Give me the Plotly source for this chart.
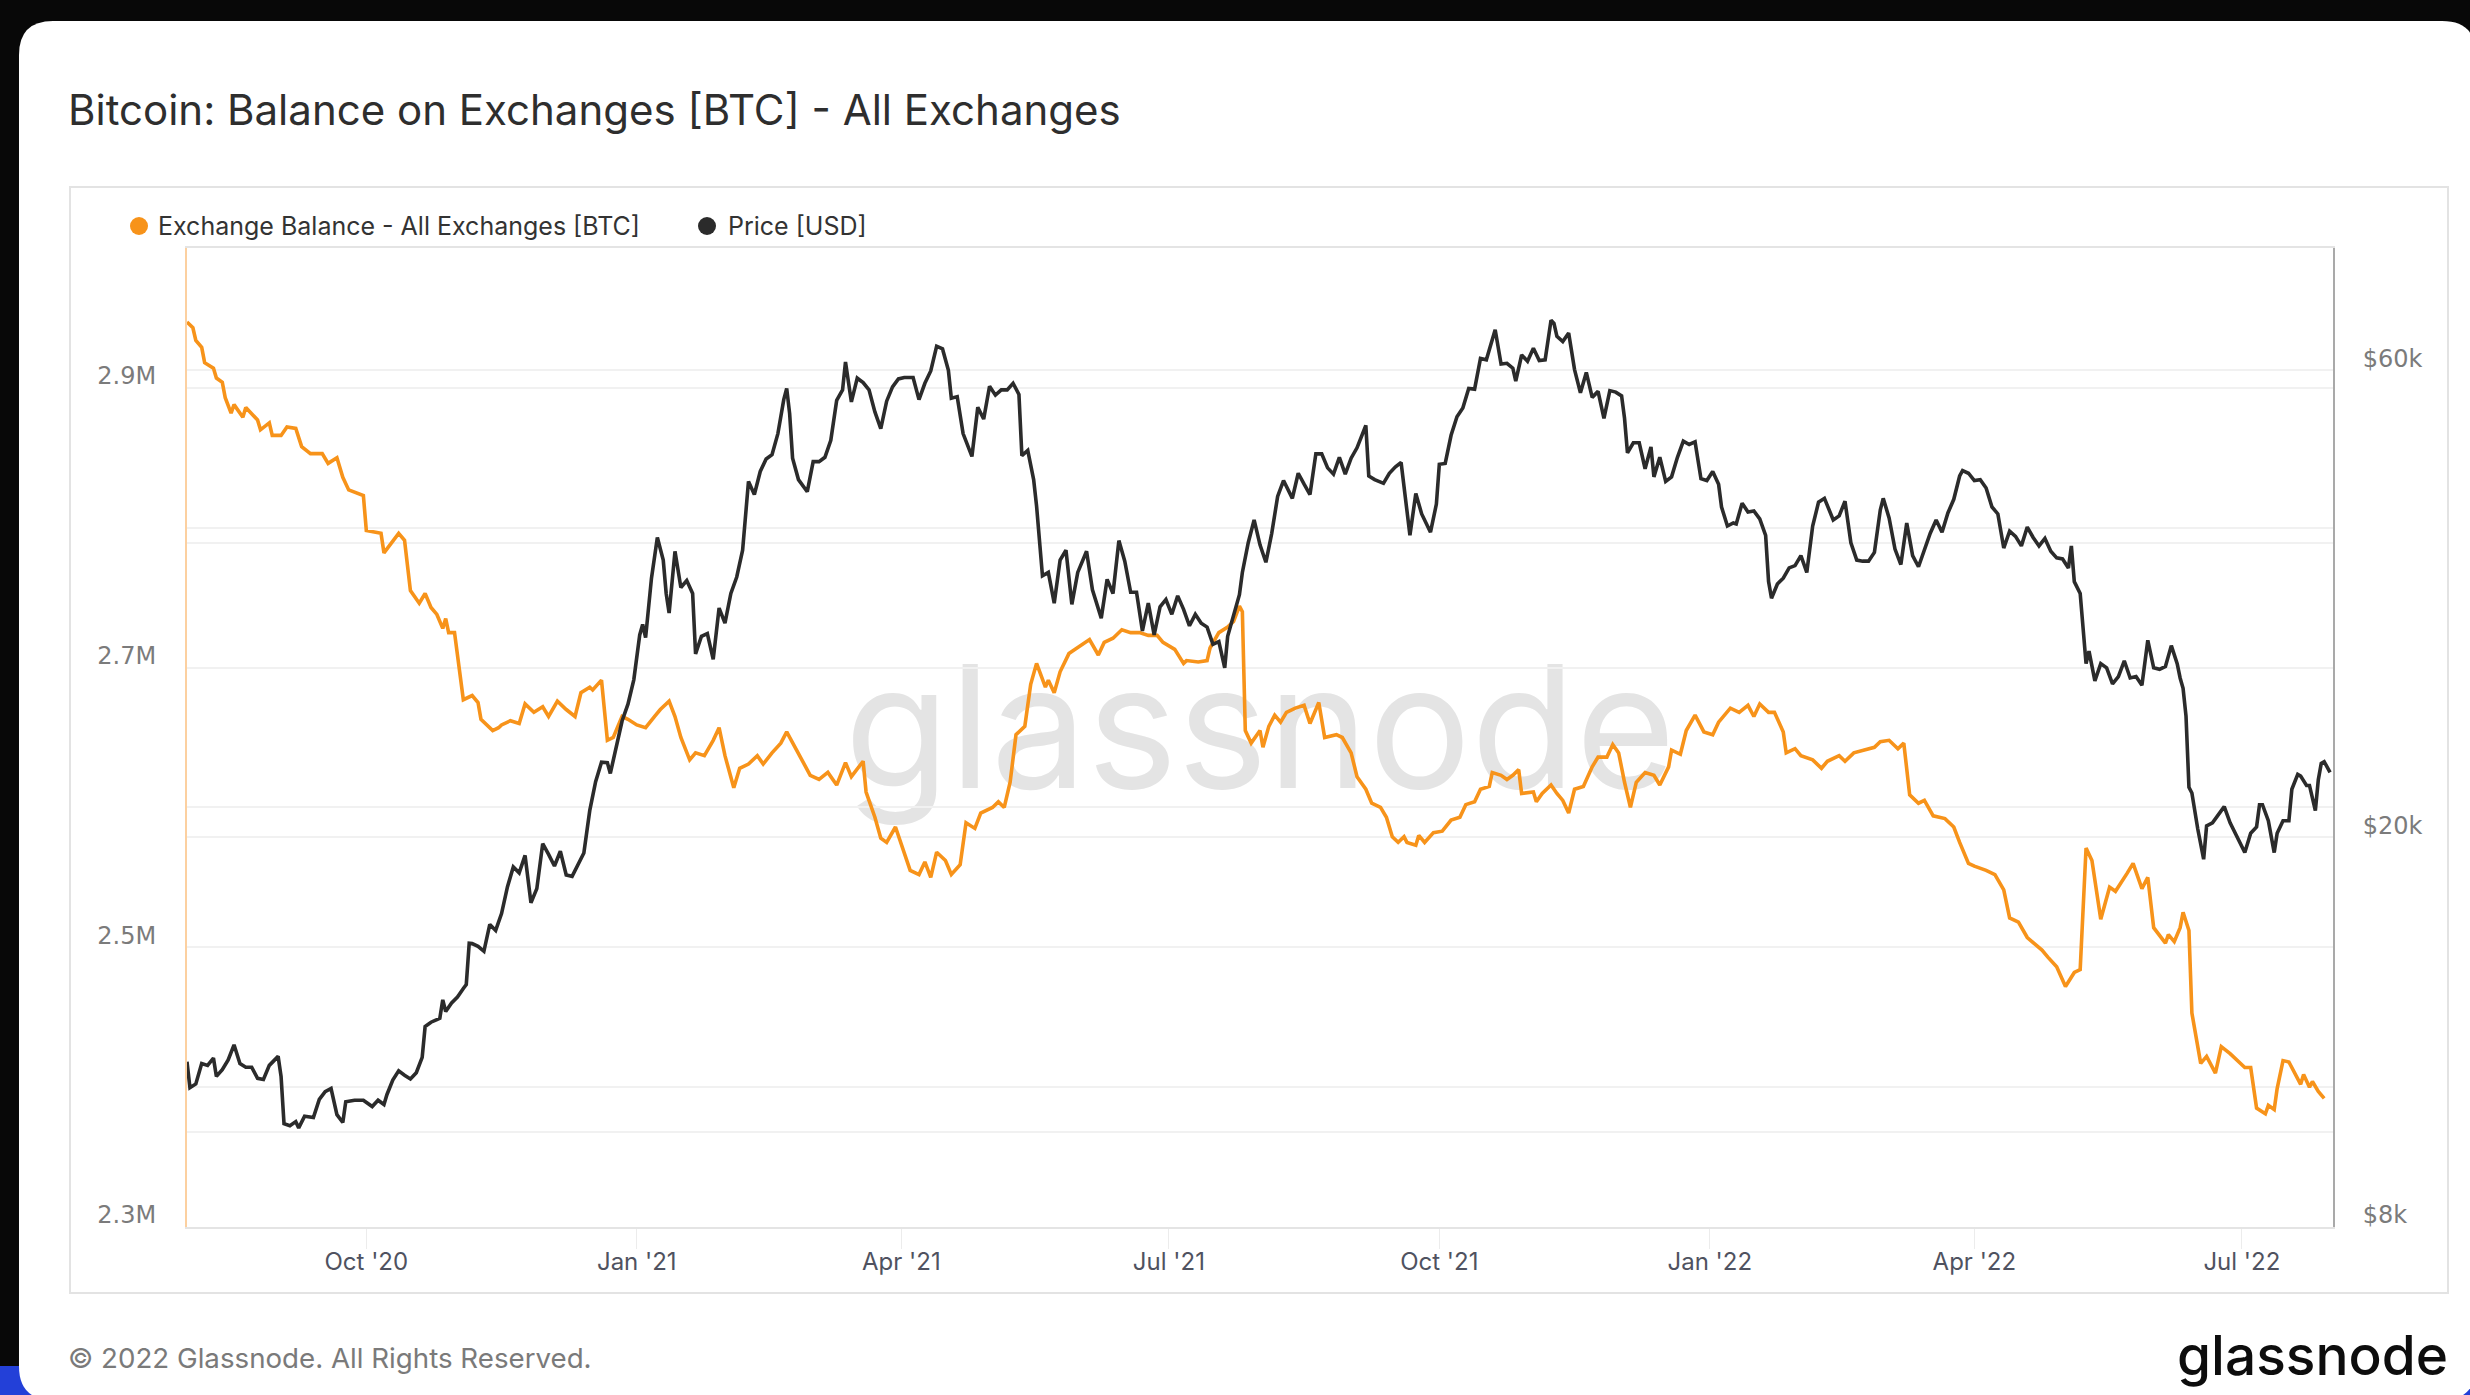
import math
import plotly.graph_objects as go

# ---------------- data ----------------
balance_dates = [
    "2020-08-01", "2020-08-03", "2020-08-04", "2020-08-06", "2020-08-07", "2020-08-10", "2020-08-11",
    "2020-08-13", "2020-08-14", "2020-08-16", "2020-08-17", "2020-08-20", "2020-08-21", "2020-08-25",
    "2020-08-26", "2020-08-29", "2020-08-30", "2020-09-02", "2020-09-04", "2020-09-07", "2020-09-09",
    "2020-09-12", "2020-09-16", "2020-09-18", "2020-09-21", "2020-09-23", "2020-09-25", "2020-09-28",
    "2020-09-30", "2020-10-01", "2020-10-04", "2020-10-06", "2020-10-07", "2020-10-10", "2020-10-12",
    "2020-10-14", "2020-10-16", "2020-10-19", "2020-10-21", "2020-10-23", "2020-10-25", "2020-10-27",
    "2020-10-28", "2020-10-29", "2020-10-31", "2020-11-03", "2020-11-06", "2020-11-08", "2020-11-09",
    "2020-11-13", "2020-11-15", "2020-11-16", "2020-11-19", "2020-11-22", "2020-11-24", "2020-11-27",
    "2020-11-30", "2020-12-02", "2020-12-05", "2020-12-08", "2020-12-11", "2020-12-13", "2020-12-16",
    "2020-12-17", "2020-12-20", "2020-12-22", "2020-12-24", "2020-12-27", "2020-12-29", "2021-01-01",
    "2021-01-04", "2021-01-07", "2021-01-09", "2021-01-12", "2021-01-14", "2021-01-16", "2021-01-19",
    "2021-01-21", "2021-01-24", "2021-01-27", "2021-01-29", "2021-01-31", "2021-02-03", "2021-02-05",
    "2021-02-08", "2021-02-11", "2021-02-13", "2021-02-16", "2021-02-19", "2021-02-21", "2021-02-24",
    "2021-02-27", "2021-03-01", "2021-03-04", "2021-03-07", "2021-03-10", "2021-03-13", "2021-03-15",
    "2021-03-19", "2021-03-20", "2021-03-23", "2021-03-25", "2021-03-27", "2021-03-30", "2021-04-01",
    "2021-04-04", "2021-04-07", "2021-04-09", "2021-04-11", "2021-04-13", "2021-04-16", "2021-04-18",
    "2021-04-21", "2021-04-23", "2021-04-26", "2021-04-28", "2021-05-02", "2021-05-04", "2021-05-06",
    "2021-05-08", "2021-05-10", "2021-05-13", "2021-05-15", "2021-05-17", "2021-05-20", "2021-05-21",
    "2021-05-23", "2021-05-25", "2021-05-28", "2021-06-01", "2021-06-04", "2021-06-07", "2021-06-09",
    "2021-06-12", "2021-06-15", "2021-06-18", "2021-06-21", "2021-06-24", "2021-06-27", "2021-06-29",
    "2021-07-03", "2021-07-06", "2021-07-07", "2021-07-11", "2021-07-14", "2021-07-15", "2021-07-18",
    "2021-07-21", "2021-07-23", "2021-07-25", "2021-07-26", "2021-07-27", "2021-07-29", "2021-08-01",
    "2021-08-02", "2021-08-04", "2021-08-06", "2021-08-08", "2021-08-10", "2021-08-13", "2021-08-16",
    "2021-08-18", "2021-08-21", "2021-08-23", "2021-08-27", "2021-08-29", "2021-09-01", "2021-09-03",
    "2021-09-06", "2021-09-08", "2021-09-11", "2021-09-13", "2021-09-15", "2021-09-17", "2021-09-19",
    "2021-09-20", "2021-09-23", "2021-09-24", "2021-09-26", "2021-09-29", "2021-10-02", "2021-10-05",
    "2021-10-08", "2021-10-10", "2021-10-13", "2021-10-15", "2021-10-18", "2021-10-19", "2021-10-22",
    "2021-10-24", "2021-10-26", "2021-10-28", "2021-10-29", "2021-11-02", "2021-11-03", "2021-11-05",
    "2021-11-08", "2021-11-10", "2021-11-12", "2021-11-14", "2021-11-16", "2021-11-19", "2021-11-22",
    "2021-11-24", "2021-11-27", "2021-11-29", "2021-12-01", "2021-12-03", "2021-12-05", "2021-12-07",
    "2021-12-10", "2021-12-13", "2021-12-15", "2021-12-18", "2021-12-19", "2021-12-22", "2021-12-24",
    "2021-12-27", "2021-12-30", "2022-01-02", "2022-01-04", "2022-01-08", "2022-01-11", "2022-01-14",
    "2022-01-16", "2022-01-18", "2022-01-21", "2022-01-23", "2022-01-26", "2022-01-27", "2022-01-30",
    "2022-02-01", "2022-02-05", "2022-02-08", "2022-02-10", "2022-02-14", "2022-02-16", "2022-02-19",
    "2022-02-23", "2022-02-26", "2022-02-28", "2022-03-03", "2022-03-06", "2022-03-08", "2022-03-10",
    "2022-03-13", "2022-03-15", "2022-03-18", "2022-03-22", "2022-03-25", "2022-03-27", "2022-03-30",
    "2022-04-01", "2022-04-05", "2022-04-08", "2022-04-11", "2022-04-13", "2022-04-16", "2022-04-19",
    "2022-04-22", "2022-04-24", "2022-04-26", "2022-04-29", "2022-05-02", "2022-05-05", "2022-05-07",
    "2022-05-09", "2022-05-11", "2022-05-13", "2022-05-14", "2022-05-17", "2022-05-19", "2022-05-23",
    "2022-05-25", "2022-05-28", "2022-05-30", "2022-06-01", "2022-06-05", "2022-06-06", "2022-06-08",
    "2022-06-10", "2022-06-11", "2022-06-13", "2022-06-14", "2022-06-17", "2022-06-19", "2022-06-22",
    "2022-06-24", "2022-06-27", "2022-07-02", "2022-07-04", "2022-07-06", "2022-07-09", "2022-07-10",
    "2022-07-12", "2022-07-13", "2022-07-15", "2022-07-17", "2022-07-21", "2022-07-22", "2022-07-24",
    "2022-07-25", "2022-07-27", "2022-07-29",
]
balance_btc = [
    2947000, 2943000, 2934000, 2929000, 2918000, 2914000, 2907000,
    2904000, 2893000, 2882000, 2888000, 2879000, 2886000, 2877000,
    2870000, 2875000, 2866000, 2866000, 2872000, 2871000, 2858000,
    2853000, 2853000, 2846000, 2850000, 2836000, 2827000, 2825000,
    2823000, 2798000, 2797000, 2796000, 2782000, 2790000, 2796000,
    2791000, 2755000, 2746000, 2753000, 2743000, 2738000, 2728000,
    2735000, 2725000, 2725000, 2677000, 2680000, 2675000, 2663000,
    2655000, 2657000, 2659000, 2662000, 2660000, 2674000, 2668000,
    2672000, 2665000, 2676000, 2670000, 2665000, 2682000, 2686000,
    2684000, 2691000, 2648000, 2650000, 2665000, 2663000, 2659000,
    2657000, 2665000, 2670000, 2676000, 2665000, 2650000, 2634000,
    2639000, 2637000, 2648000, 2657000, 2637000, 2614000, 2628000,
    2631000, 2637000, 2631000, 2639000, 2646000, 2654000, 2642000,
    2631000, 2623000, 2620000, 2625000, 2616000, 2632000, 2622000,
    2633000, 2611000, 2593000, 2578000, 2575000, 2586000, 2573000,
    2555000, 2552000, 2561000, 2550000, 2568000, 2562000, 2552000,
    2559000, 2589000, 2585000, 2596000, 2600000, 2604000, 2600000,
    2618000, 2652000, 2658000, 2688000, 2703000, 2686000, 2691000,
    2682000, 2697000, 2710000, 2716000, 2720000, 2709000, 2718000,
    2721000, 2727000, 2725000, 2725000, 2723000, 2723000, 2718000,
    2713000, 2703000, 2705000, 2704000, 2705000, 2714000, 2725000,
    2729000, 2733000, 2744000, 2740000, 2655000, 2646000, 2655000,
    2643000, 2658000, 2666000, 2661000, 2668000, 2671000, 2673000,
    2660000, 2675000, 2650000, 2652000, 2650000, 2639000, 2622000,
    2613000, 2603000, 2600000, 2593000, 2579000, 2575000, 2579000,
    2575000, 2573000, 2580000, 2575000, 2582000, 2583000, 2591000,
    2593000, 2602000, 2604000, 2613000, 2615000, 2625000, 2623000,
    2620000, 2623000, 2627000, 2610000, 2611000, 2604000, 2610000,
    2616000, 2610000, 2605000, 2596000, 2613000, 2615000, 2629000,
    2636000, 2636000, 2645000, 2639000, 2618000, 2600000, 2618000,
    2625000, 2623000, 2616000, 2629000, 2641000, 2638000, 2655000,
    2666000, 2654000, 2652000, 2661000, 2671000, 2668000, 2673000,
    2665000, 2674000, 2668000, 2668000, 2654000, 2639000, 2642000,
    2637000, 2634000, 2628000, 2633000, 2637000, 2633000, 2639000,
    2641000, 2643000, 2647000, 2648000, 2642000, 2646000, 2609000,
    2603000, 2605000, 2594000, 2592000, 2586000, 2575000, 2560000,
    2558000, 2555000, 2552000, 2541000, 2521000, 2518000, 2507000,
    2502000, 2498000, 2493000, 2486000, 2472000, 2482000, 2484000,
    2571000, 2562000, 2532000, 2520000, 2543000, 2540000, 2553000,
    2560000, 2542000, 2550000, 2514000, 2503000, 2509000, 2504000,
    2514000, 2525000, 2512000, 2453000, 2417000, 2422000, 2410000,
    2429000, 2424000, 2414000, 2414000, 2385000, 2381000, 2387000,
    2384000, 2399000, 2419000, 2418000, 2402000, 2409000, 2400000,
    2404000, 2397000, 2392000,
]

price_dates = [
    "2020-08-01", "2020-08-02", "2020-08-04", "2020-08-06", "2020-08-08", "2020-08-10", "2020-08-11",
    "2020-08-13", "2020-08-15", "2020-08-17", "2020-08-19", "2020-08-21", "2020-08-23", "2020-08-25",
    "2020-08-27", "2020-08-29", "2020-09-01", "2020-09-02", "2020-09-03", "2020-09-05", "2020-09-07",
    "2020-09-08", "2020-09-10", "2020-09-13", "2020-09-15", "2020-09-17", "2020-09-19", "2020-09-21",
    "2020-09-23", "2020-09-24", "2020-09-27", "2020-09-30", "2020-10-03", "2020-10-05", "2020-10-07",
    "2020-10-08", "2020-10-10", "2020-10-12", "2020-10-14", "2020-10-16", "2020-10-18", "2020-10-20",
    "2020-10-21", "2020-10-23", "2020-10-25", "2020-10-26", "2020-10-27", "2020-10-28", "2020-10-30",
    "2020-11-01", "2020-11-03", "2020-11-04", "2020-11-05", "2020-11-06", "2020-11-08", "2020-11-10",
    "2020-11-12", "2020-11-14", "2020-11-16", "2020-11-18", "2020-11-20", "2020-11-22", "2020-11-24",
    "2020-11-26", "2020-11-28", "2020-11-30", "2020-12-02", "2020-12-04", "2020-12-06", "2020-12-08",
    "2020-12-10", "2020-12-12", "2020-12-14", "2020-12-16", "2020-12-18", "2020-12-20", "2020-12-22",
    "2020-12-23", "2020-12-25", "2020-12-27", "2020-12-29", "2020-12-31", "2021-01-02", "2021-01-03",
    "2021-01-04", "2021-01-06", "2021-01-08", "2021-01-10", "2021-01-11", "2021-01-12", "2021-01-14",
    "2021-01-16", "2021-01-18", "2021-01-20", "2021-01-21", "2021-01-23", "2021-01-25", "2021-01-27",
    "2021-01-29", "2021-01-31", "2021-02-02", "2021-02-04", "2021-02-06", "2021-02-08", "2021-02-10",
    "2021-02-12", "2021-02-14", "2021-02-16", "2021-02-18", "2021-02-20", "2021-02-21", "2021-02-22",
    "2021-02-23", "2021-02-25", "2021-02-28", "2021-03-02", "2021-03-04", "2021-03-06", "2021-03-08",
    "2021-03-10", "2021-03-12", "2021-03-13", "2021-03-15", "2021-03-17", "2021-03-19", "2021-03-21",
    "2021-03-23", "2021-03-25", "2021-03-27", "2021-03-29", "2021-03-31", "2021-04-02", "2021-04-05",
    "2021-04-07", "2021-04-09", "2021-04-11", "2021-04-13", "2021-04-15", "2021-04-17", "2021-04-18",
    "2021-04-20", "2021-04-22", "2021-04-25", "2021-04-27", "2021-04-29", "2021-05-01", "2021-05-03",
    "2021-05-05", "2021-05-07", "2021-05-09", "2021-05-11", "2021-05-12", "2021-05-14", "2021-05-16",
    "2021-05-17", "2021-05-19", "2021-05-21", "2021-05-23", "2021-05-25", "2021-05-27", "2021-05-29",
    "2021-05-31", "2021-06-03", "2021-06-05", "2021-06-08", "2021-06-10", "2021-06-12", "2021-06-14",
    "2021-06-16", "2021-06-18", "2021-06-20", "2021-06-22", "2021-06-24", "2021-06-26", "2021-06-28",
    "2021-06-30", "2021-07-02", "2021-07-04", "2021-07-06", "2021-07-08", "2021-07-10", "2021-07-12",
    "2021-07-14", "2021-07-16", "2021-07-18", "2021-07-20", "2021-07-21", "2021-07-23", "2021-07-25",
    "2021-07-26", "2021-07-28", "2021-07-30", "2021-08-01", "2021-08-03", "2021-08-05", "2021-08-07",
    "2021-08-09", "2021-08-12", "2021-08-14", "2021-08-16", "2021-08-18", "2021-08-20", "2021-08-22",
    "2021-08-24", "2021-08-26", "2021-08-28", "2021-08-30", "2021-09-01", "2021-09-03", "2021-09-06",
    "2021-09-07", "2021-09-09", "2021-09-12", "2021-09-14", "2021-09-16", "2021-09-18", "2021-09-20",
    "2021-09-21", "2021-09-23", "2021-09-25", "2021-09-28", "2021-09-30", "2021-10-01", "2021-10-03",
    "2021-10-05", "2021-10-07", "2021-10-09", "2021-10-11", "2021-10-13", "2021-10-15", "2021-10-17",
    "2021-10-19", "2021-10-20", "2021-10-22", "2021-10-24", "2021-10-26", "2021-10-27", "2021-10-29",
    "2021-10-31", "2021-11-02", "2021-11-04", "2021-11-06", "2021-11-08", "2021-11-09", "2021-11-10",
    "2021-11-12", "2021-11-14", "2021-11-16", "2021-11-18", "2021-11-20", "2021-11-22", "2021-11-24",
    "2021-11-26", "2021-11-28", "2021-11-30", "2021-12-02", "2021-12-03", "2021-12-04", "2021-12-06",
    "2021-12-08", "2021-12-10", "2021-12-12", "2021-12-13", "2021-12-15", "2021-12-17", "2021-12-19",
    "2021-12-21", "2021-12-23", "2021-12-25", "2021-12-27", "2021-12-29", "2021-12-31", "2022-01-02",
    "2022-01-04", "2022-01-05", "2022-01-07", "2022-01-09", "2022-01-10", "2022-01-12", "2022-01-14",
    "2022-01-16", "2022-01-18", "2022-01-20", "2022-01-21", "2022-01-22", "2022-01-24", "2022-01-26",
    "2022-01-28", "2022-01-30", "2022-02-01", "2022-02-03", "2022-02-05", "2022-02-07", "2022-02-09",
    "2022-02-10", "2022-02-12", "2022-02-14", "2022-02-16", "2022-02-18", "2022-02-20", "2022-02-22",
    "2022-02-24", "2022-02-26", "2022-02-28", "2022-03-01", "2022-03-03", "2022-03-05", "2022-03-07",
    "2022-03-09", "2022-03-11", "2022-03-13", "2022-03-15", "2022-03-17", "2022-03-19", "2022-03-21",
    "2022-03-23", "2022-03-25", "2022-03-27", "2022-03-28", "2022-03-30", "2022-04-01", "2022-04-03",
    "2022-04-05", "2022-04-07", "2022-04-09", "2022-04-11", "2022-04-13", "2022-04-15", "2022-04-17",
    "2022-04-19", "2022-04-21", "2022-04-23", "2022-04-25", "2022-04-27", "2022-04-29", "2022-05-01",
    "2022-05-03", "2022-05-04", "2022-05-05", "2022-05-07", "2022-05-09", "2022-05-10", "2022-05-12",
    "2022-05-14", "2022-05-16", "2022-05-18", "2022-05-20", "2022-05-22", "2022-05-24", "2022-05-26",
    "2022-05-28", "2022-05-30", "2022-06-01", "2022-06-03", "2022-06-05", "2022-06-07", "2022-06-09",
    "2022-06-10", "2022-06-11", "2022-06-12", "2022-06-13", "2022-06-14", "2022-06-16", "2022-06-18",
    "2022-06-19", "2022-06-21", "2022-06-23", "2022-06-25", "2022-06-27", "2022-06-29", "2022-06-30",
    "2022-07-02", "2022-07-04", "2022-07-06", "2022-07-07", "2022-07-08", "2022-07-10", "2022-07-12",
    "2022-07-13", "2022-07-15", "2022-07-17", "2022-07-18", "2022-07-20", "2022-07-21", "2022-07-23",
    "2022-07-24", "2022-07-26", "2022-07-27", "2022-07-28", "2022-07-29", "2022-07-31",
]
price_usd = [
    11800, 11100, 11200, 11750, 11700, 11900, 11400,
    11580, 11850, 12280, 11750, 11650, 11650, 11350,
    11320, 11700, 11950, 11400, 10200, 10150, 10250,
    10100, 10380, 10350, 10800, 11000, 11080, 10420,
    10230, 10740, 10780, 10780, 10620, 10780, 10670,
    10920, 11300, 11550, 11430, 11330, 11500, 11920,
    12820, 12950, 13030, 13070, 13650, 13280, 13550,
    13740, 14020, 14150, 15590, 15580, 15480, 15300,
    16300, 16070, 16720, 17800, 18660, 18400, 19170,
    17150, 17730, 19710, 19220, 18700, 19360, 18310,
    18250, 18800, 19280, 21300, 22800, 23870, 23840,
    23250, 24700, 26300, 27360, 28990, 32200, 33000,
    32000, 36800, 40500, 38400, 35500, 33900, 39200,
    36000, 36600, 35500, 30800, 32100, 32300, 30400,
    34300, 33100, 35500, 36900, 39300, 46200, 44800,
    47300, 48700, 49200, 51700, 56000, 57500, 54200,
    48800, 46400, 45100, 48400, 48400, 48900, 50900,
    55900, 57300, 61200, 55700, 58900, 58300, 57300,
    54400, 52300, 55800, 57700, 58800, 59000, 59000,
    56000, 58200, 59900, 63500, 63100, 60000, 56200,
    56400, 51700, 49000, 55000, 53500, 57800, 56600,
    57300, 57300, 58200, 56700, 49100, 49700, 46400,
    43600, 37000, 37300, 34700, 38400, 39300, 34600,
    37300, 39200, 35800, 33500, 36700, 35500, 40200,
    38300, 35600, 35600, 32500, 34700, 32200, 34400,
    35000, 33800, 35300, 34200, 32900, 33800, 33100,
    32800, 31500, 31700, 29800, 32100, 33600, 35400,
    37300, 40000, 42200, 39800, 38200, 40900, 44600,
    46300, 44400, 47100, 45900, 44800, 49300, 49300,
    47700, 47000, 48900, 47000, 48800, 50000, 52700,
    46800, 46400, 46000, 47100, 47800, 48300, 43000,
    40700, 44900, 42800, 41000, 43800, 48100, 48200,
    51500, 53800, 54900, 57500, 57400, 61700, 61500,
    64300, 66000, 60900, 61000, 60300, 58500, 62200,
    61300, 63200, 61400, 61500, 67500, 67000, 65000,
    64200, 65500, 60100, 56900, 59700, 56300, 57100,
    53600, 57200, 57000, 56500, 53600, 49400, 50600,
    50600, 47600, 50100, 46700, 48900, 46200, 46700,
    48900, 50800, 50400, 50700, 46500, 46300, 47300,
    45900, 43500, 41600, 41900, 41800, 43900, 43000,
    43100, 42300, 40700, 36500, 35100, 36300, 36800,
    37700, 37900, 38800, 37300, 41600, 44000, 44400,
    43600, 42200, 42600, 44100, 40000, 38400, 38300,
    38300, 39100, 43200, 44400, 42400, 39400, 38000,
    41900, 38800, 37800, 39300, 40900, 42200, 41000,
    42900, 44300, 46800, 47400, 47100, 46300, 46400,
    45500, 43500, 42800, 39500, 41100, 40600, 39700,
    41500, 40500, 39700, 40400, 39200, 38600, 38500,
    37700, 39700, 36500, 35500, 30100, 31000, 28900,
    30100, 29800, 28700, 29200, 30300, 29100, 29200,
    28600, 31800, 29800, 29700, 29900, 31400, 30100,
    29100, 28400, 26600, 22500, 22200, 20400, 19000,
    20550, 20700, 21100, 21500, 20700, 20100, 19800,
    19300, 20200, 20500, 21600, 21600, 20800, 19300,
    20200, 20800, 20800, 22400, 23200, 23100, 22600,
    22600, 21300, 22900, 23800, 23900, 23300,
]

series_names = ["Exchange Balance - All Exchanges [BTC]", "Price [USD]"]
series_colors = ["#f7931a", "#2b2b2b"]
balance_ticks = [2300000, 2400000, 2500000, 2600000, 2700000, 2800000, 2900000]
balance_ticktext = ["2.3M", "", "2.5M", "", "2.7M", "", "2.9M"]
price_ticks = [8000, 10000, 20000, 40000, 60000]
price_ticktext = ["$8k", "", "$20k", "", "$60k"]

# ---------------- layout helpers (pixel -> paper) ----------------
W, H = 2470, 1395
PL, PR, PT, PB = 187, 2333, 248, 1227


def fx(x):
    return (x - PL) / (PR - PL)


def fy(y):
    return (PB - y) / (PB - PT)


fig = go.Figure()

fig.add_trace(go.Scatter(
    x=price_dates, y=price_usd, mode="lines", name=series_names[1],
    line=dict(color=series_colors[1], width=3.6), yaxis="y2", showlegend=False,
    hoverinfo="skip"))
fig.add_trace(go.Scatter(
    x=balance_dates, y=balance_btc, mode="lines", name=series_names[0],
    line=dict(color=series_colors[0], width=3.6), yaxis="y", showlegend=False,
    hoverinfo="skip"))

# ---------------- background shapes ----------------
r = 34
cx0, cy0, cx1, cy1 = 19, 21, 2476, 1400


def P(x, y):
    return f"{fx(x):.5f},{fy(y):.5f}"


card_path = (
    f"M {P(cx0, cy0 + r)} Q {P(cx0, cy0)} {P(cx0 + r, cy0)} "
    f"L {P(cx1 - r, cy0)} Q {P(cx1, cy0)} {P(cx1, cy0 + r)} "
    f"L {P(cx1, cy1 - r)} Q {P(cx1, cy1)} {P(cx1 - r, cy1)} "
    f"L {P(cx0 + r, cy1)} Q {P(cx0, cy1)} {P(cx0, cy1 - r)} Z"
)

legend_y = 226
legend_dots = [139, 707]
legend_text_x = [156, 726]

shapes = [
    # desktop showing through at the bottom corners of the window
    dict(type="rect", xref="paper", yref="paper", x0=fx(-5), x1=fx(70), y0=fy(1366), y1=fy(1400),
         fillcolor="#2340d8", line=dict(width=0), layer="below"),
    dict(type="rect", xref="paper", yref="paper", x0=fx(2430), x1=fx(2480), y0=fy(1372), y1=fy(1400),
         fillcolor="#2340d8", line=dict(width=0), layer="below"),
    dict(type="path", path=card_path, xref="paper", yref="paper",
         fillcolor="#ffffff", line=dict(width=0), layer="below"),
    dict(type="rect", xref="paper", yref="paper",
         x0=fx(70), x1=fx(2448), y0=fy(187), y1=fy(1293),
         line=dict(color="#e3e3e3", width=2), fillcolor="rgba(0,0,0,0)", layer="below"),
    dict(type="rect", xref="paper", yref="paper",
         x0=fx(830), x1=fx(1690), y0=fy(610), y1=fy(830),
         line=dict(width=0), fillcolor="rgba(0,0,0,0)", layer="below",
         label=dict(text="glassnode", font=dict(family="Inter", size=171, color="#e4e4e4"),
                    textposition="middle center")),
]
for cx, col in zip(legend_dots, series_colors):
    shapes.append(dict(type="circle", xref="paper", yref="paper",
                       x0=fx(cx - 9), x1=fx(cx + 9), y0=fy(legend_y + 9), y1=fy(legend_y - 9),
                       fillcolor=col, line=dict(width=0), layer="above"))

annotations = [
    dict(text="Bitcoin: Balance on Exchanges [BTC] - All Exchanges", xref="paper", yref="paper",
         x=fx(66), y=fy(110), xanchor="left", yanchor="middle", showarrow=False,
         font=dict(family="Inter", size=42, color="#2e2e2e")),
    dict(text="© 2022 Glassnode. All Rights Reserved.", xref="paper", yref="paper",
         x=fx(66), y=fy(1358), xanchor="left", yanchor="middle", showarrow=False,
         font=dict(family="Inter", size=27.7, color="#7a7a7a")),
    dict(text="glassnode", xref="paper", yref="paper",
         x=fx(2450), y=fy(1355), xanchor="right", yanchor="middle", showarrow=False,
         font=dict(family="Inter", size=55, color="#0d0d0d", weight=500)),
]
for tx, nm in zip(legend_text_x, series_names):
    annotations.append(dict(text=nm, xref="paper", yref="paper", x=fx(tx), y=fy(legend_y),
                            xanchor="left", yanchor="middle", showarrow=False,
                            font=dict(family="Inter", size=25, color="#333333")))

axis_font = dict(family="DejaVu Sans", size=24, color="#7b7b7b")

fig.update_layout(
    width=W, height=H,
    margin=dict(l=PL, r=W - PR, t=PT, b=H - PB, pad=0),
    paper_bgcolor="#080808",
    plot_bgcolor="rgba(0,0,0,0)",
    shapes=shapes,
    annotations=annotations,
    showlegend=False,
    xaxis=dict(type="date", range=["2020-08-01", "2022-08-01"], tick0="2020-10-01", dtick="M3",
               tickformat="%b '%y", showgrid=False, zeroline=False,
               showline=True, linecolor="#e4e4e4", linewidth=2, mirror=True,
               ticks="outside", ticklen=20, tickcolor="#ececec", tickwidth=1,
               ticklabelstandoff=-8,
               tickfont=dict(family="Inter", size=24, color="#4f5260")),
    yaxis=dict(range=[2300000, 3000000], tickmode="array", tickvals=balance_ticks,
               ticktext=balance_ticktext, showgrid=True, gridcolor="#f1f1f1", gridwidth=2,
               zeroline=False, showline=True, linecolor="#fcd0a0", linewidth=2,
               ticks="", ticklabelstandoff=24, ticklabelshift=-12, tickfont=axis_font),
    yaxis2=dict(type="log", range=[math.log10(8000), math.log10(80000)], overlaying="y",
                side="right", tickmode="array", tickvals=price_ticks, ticktext=price_ticktext,
                showgrid=True, gridcolor="#f1f1f1", gridwidth=2, zeroline=False,
                showline=True, linecolor="#a9a9a9", linewidth=2, ticks="",
                ticklabelstandoff=23, ticklabelshift=-12, tickfont=axis_font),
)

fig.write_html(
    "out.html",
    config={"displayModeBar": False},
    post_script="document.body.style.margin='0';document.body.style.padding='0';"
                "document.body.style.overflow='hidden';document.body.style.background='#080808';",
)
